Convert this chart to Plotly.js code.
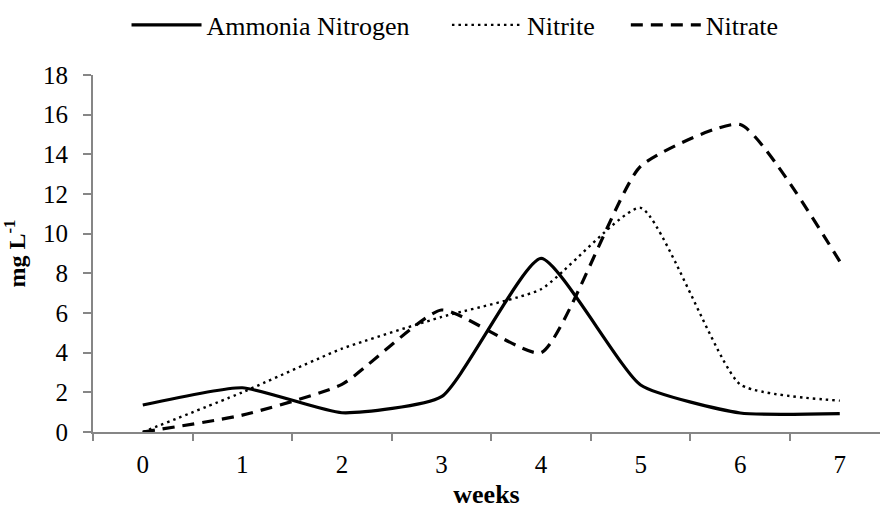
<!DOCTYPE html>
<html>
<head>
<meta charset="utf-8">
<script src="https://cdn.plot.ly/plotly-3.0.1.min.js"></script>
<style>html,body{margin:0;padding:0;background:#fff;}#chart{width:880px;height:509px;}</style>
</head>
<body>
<div id="chart"></div>
<script>
var weeks = ['0','1','2','3','4','5','6','7'];
var ammonia = [1.36, 2.23, 0.97, 1.78, 8.75, 2.37, 0.96, 0.93];
var nitrite = [0.0, 2.0, 4.2, 5.8, 7.2, 11.3, 2.4, 1.58];
var nitrate = [0.0, 0.85, 2.4, 6.15, 4.0, 13.4, 15.5, 8.6];
var seriesNames = ['Ammonia Nitrogen', 'Nitrite', 'Nitrate'];
var yTicks = [0, 2, 4, 6, 8, 10, 12, 14, 16, 18];

var font = 'Liberation Serif';
var pad5 = '\u00a0\u00a0\u00a0\u00a0\u00a0';
var pad4 = '\u00a0\u00a0\u00a0\u00a0';
var traces = [
  {x: weeks, y: ammonia, name: seriesNames[0] + pad5, mode: 'lines',
   line: {color: '#000', width: 3.2, shape: 'spline', smoothing: 0.5}},
  {x: weeks, y: nitrite, name: seriesNames[1] + pad4, mode: 'lines',
   line: {color: '#000', width: 2.4, dash: '2.5px,4px', shape: 'spline', smoothing: 0.5}},
  {x: weeks, y: nitrate, name: seriesNames[2], mode: 'lines',
   line: {color: '#000', width: 3.2, dash: '12px,8px', shape: 'spline', smoothing: 0.5}}
];
var axisGray = '#868686';
var layout = {
  width: 880, height: 509,
  margin: {l: 93, r: 0, t: 75, b: 77},
  paper_bgcolor: '#fff', plot_bgcolor: '#fff',
  font: {family: font, color: '#000', size: 25},
  showlegend: true,
  legend: {orientation: 'h', x: 0.46, xanchor: 'center', y: 1.14, yanchor: 'middle',
           font: {family: font, size: 26, color: '#000'}, itemwidth: 70,
           bgcolor: 'rgba(0,0,0,0)', tracegroupgap: 0},
  xaxis: {type: 'category', categoryorder: 'array', categoryarray: weeks,
          range: [-0.5, 7.404], tickson: 'boundaries', ticks: 'outside', ticklen: 7,
          tickwidth: 2, tickcolor: axisGray, showline: true, linecolor: axisGray, linewidth: 2,
          showgrid: false, zeroline: false, ticklabelstandoff: 9,
          tickfont: {family: font, size: 25, color: '#000'},
          title: {text: '<b>weeks</b>', font: {family: font, size: 26, color: '#000'}, standoff: 16}},
  yaxis: {range: [0, 18], tickvals: yTicks, ticktext: yTicks.map(String),
          ticks: 'outside', ticklen: 8, tickwidth: 2, tickcolor: axisGray,
          showline: true, linecolor: axisGray, linewidth: 2, showgrid: false, zeroline: false,
          ticklabelstandoff: 10,
          tickfont: {family: font, size: 25, color: '#000'},
          title: {text: '<b>mg L<sup>-1</sup></b>', font: {family: font, size: 24, color: '#000'}, standoff: 12}}
};
Plotly.newPlot('chart', traces, layout, {displayModeBar: false, staticPlot: true});
</script>
</body>
</html>
